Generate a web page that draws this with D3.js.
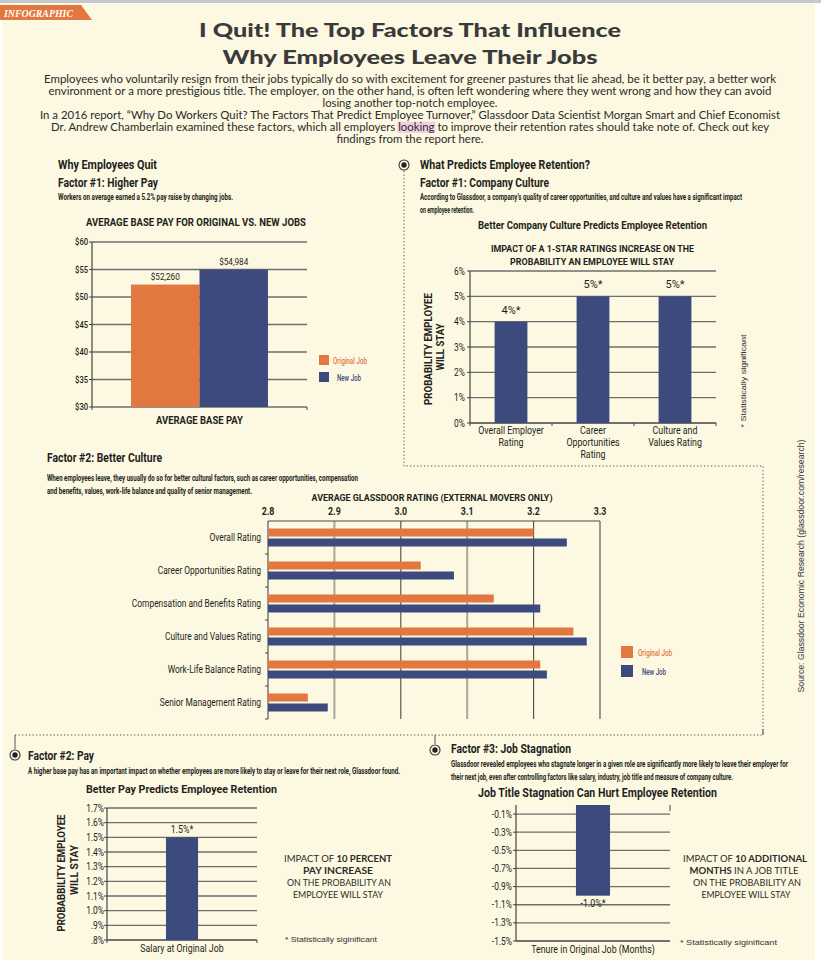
<!DOCTYPE html>
<html><head><meta charset="utf-8">
<script src="https://cdn.jsdelivr.net/npm/d3@7"></script>
<style>html,body{margin:0;padding:0;background:#fff}svg{display:block}</style>
</head><body><svg id="c" width="821" height="968"></svg>
<script>
// ---------- DATA ----------
const payGroup = ["AVERAGE BASE PAY"];
const paySeries = ["Original Job", "New Job"];
const payValues = [52260, 54984];
const payTicks = [30, 35, 40, 45, 50, 55, 60]; // thousands of dollars

const cultureCats = ["Overall Employer Rating", "Career Opportunities Rating", "Culture and Values Rating"];
const cultureCatLines = [["Overall Employer", "Rating"], ["Career", "Opportunities", "Rating"], ["Culture and", "Values Rating"]];
const cultureValues = [4, 5, 5];
const cultureLabels = ["4%*", "5%*", "5%*"];
const cultureTicks = [0, 1, 2, 3, 4, 5, 6];

const ratingCats = ["Overall Rating", "Career Opportunities Rating", "Compensation and Benefits Rating", "Culture and Values Rating", "Work-Life Balance Rating", "Senior Management Rating"];
const ratingOriginal = [3.20, 3.03, 3.14, 3.26, 3.21, 2.86];
const ratingNew = [3.25, 3.08, 3.21, 3.28, 3.22, 2.89];
const ratingTicks = [2.8, 2.9, 3.0, 3.1, 3.2, 3.3];

const payImpactCats = ["Salary at Original Job"];
const payImpactValues = [1.5];
const payImpactLabels = ["1.5%*"];
const payImpactTicks = [0.8, 0.9, 1.0, 1.1, 1.2, 1.3, 1.4, 1.5, 1.6, 1.7];

const stagCats = ["Tenure in Original Job (Months)"];
const stagValues = [-1.0];
const stagLabels = ["-1.0%*"];
const stagTicks = [-0.1, -0.3, -0.5, -0.7, -0.9, -1.1, -1.3, -1.5];

const introLines = [
  "Employees who voluntarily resign from their jobs typically do so with excitement for greener pastures that lie ahead, be it better pay, a better work",
  "environment or a more prestigious title. The employer, on the other hand, is often left wondering where they went wrong and how they can avoid",
  "losing another top-notch employee.",
  "In a 2016 report, \u201cWhy Do Workers Quit? The Factors That Predict Employee Turnover,\u201d Glassdoor Data Scientist Morgan Smart and Chief Economist",
  "Dr. Andrew Chamberlain examined these factors, which all employers looking to improve their retention rates should take note of. Check out key",
  "findings from the report here."
];
const introWidths = [732, 723, 175, 740, 718, 147];

// ---------- SETUP ----------
const svg = d3.select("#c");
const INK = "#231f20", ORANGE = "#e2773f", NAVY = "#3c4a7e", CREAM = "#fcf8e1", GRID = "#6e6e6e";
const COND = "Roboto, 'Liberation Sans', sans-serif";
const GOTH = "Lato, 'Open Sans', sans-serif";

function T(o) {
  const t = (o.g || svg).append("text").attr("x", o.x).attr("y", o.y)
    .attr("text-anchor", o.a || "start").attr("fill", o.c || INK)
    .style("font-family", o.f || COND).style("font-size", o.s + "px")
    .style("font-weight", o.wt || (o.b ? 700 : 400));
  if (o.i) t.style("font-style", "italic");
  if (o.parts) o.parts.forEach(p => t.append("tspan").text(p[0]).style("font-weight", p[1] ? 700 : 400));
  else t.text(o.t);
  if (o.r) t.attr("transform", `rotate(-90,${o.x},${o.y})`);
  if (o.w) t.attr("textLength", o.w).attr("lengthAdjust", "spacingAndGlyphs");
  else if (!o.f || o.f === COND) {
    const k = o.k || 0.84;
    const L = t.node().getComputedTextLength();
    if (L > 0) t.attr("textLength", L * k).attr("lengthAdjust", "spacingAndGlyphs");
  }
  return t;
}
function line(g, x1, y1, x2, y2, c, w) {
  return g.append("line").attr("x1", x1).attr("y1", y1).attr("x2", x2).attr("y2", y2)
    .attr("stroke", c || GRID).attr("stroke-width", w || 1);
}

// ---------- BACKGROUND ----------
svg.append("rect").attr("width", 821).attr("height", 968).attr("fill", "#fff");
svg.append("rect").attr("width", 821).attr("height", 3).attr("fill", "#c8c8c8");
svg.append("rect").attr("x", 2).attr("y", 4).attr("width", 813).attr("height", 956).attr("fill", CREAM);

// tag
svg.append("path").attr("d", "M0,5H81L92,20H0Z").attr("fill", "#e2773f");
T({x: 4, y: 17, t: "INFOGRAPHIC", s: 11, b: 1, i: 1, c: "#fff", f: "'Liberation Serif', serif", w: 69});

// title
T({x: 410, y: 37, a: "middle", s: 19, wt: 900, f: GOTH, w: 422, c: "#3a3a3a", t: "I Quit! The Top Factors That Influence"});
T({x: 410, y: 64, a: "middle", s: 19, wt: 900, f: GOTH, w: 375, c: "#3a3a3a", t: "Why Employees Leave Their Jobs"});

// intro
const hl = svg.append("g");
const intro = svg.append("g");
const introTexts = introLines.map((l, i) => T({g: intro, x: 410, y: 83 + i * 12, a: "middle", s: 10.5, f: GOTH, w: introWidths[i], c: "#2b2b2b", t: l}));
try {
  const n = introTexts[4].node(), s = introLines[4].indexOf("looking");
  const a = n.getExtentOfChar(s), b = n.getExtentOfChar(s + 6);
  hl.append("rect").attr("x", a.x - 1).attr("y", a.y + 0.5).attr("width", b.x + b.width - a.x + 2).attr("height", a.height - 0.5).attr("fill", "#f3cfe2");
} catch (e) {}

// connectors
svg.append("path").attr("d", "M404,171V466H763V735M15,735H763").attr("fill", "none")
  .attr("stroke", "#555").attr("stroke-width", 1).attr("stroke-dasharray", "1.3,2.2");
svg.append("path").attr("d", "M15,735V749M435,735V744M763,729V735").attr("fill", "none").attr("stroke", "#555").attr("stroke-width", 1);
function bullet(x, y) {
  svg.append("circle").attr("cx", x).attr("cy", y).attr("r", 5).attr("fill", CREAM).attr("stroke", "#333").attr("stroke-width", 1.1);
  svg.append("circle").attr("cx", x).attr("cy", y).attr("r", 2.7).attr("fill", "#222");
}
bullet(404, 165); bullet(15, 755); bullet(435, 750);

// ---------- CHART 1: AVERAGE BASE PAY ----------
{
  const g = svg.append("g");
  T({g, x: 58, y: 169, s: 12, b: 1, w: 99, t: "Why Employees Quit"});
  T({g, x: 58, y: 187, s: 12, b: 1, w: 100, t: "Factor #1: Higher Pay"});
  T({g, x: 58, y: 200, s: 8.5, wt: 700, w: 175, t: "Workers on average earned a 5.2% pay raise by changing jobs."});
  T({g, x: 86, y: 226, s: 10, b: 1, w: 220, t: "AVERAGE BASE PAY FOR ORIGINAL VS. NEW JOBS"});

  const x0 = d3.scaleBand().domain(payGroup).range([92, 307]).paddingInner(0).paddingOuter(0.285);
  const x1 = d3.scaleBand().domain(paySeries).range([0, x0.bandwidth()]);
  const y = d3.scaleLinear().domain([30, 60]).range([407, 242]);
  payTicks.forEach(t => {
    line(g, 92, y(t), 307, y(t), GRID, 1.3);
    line(g, 89, y(t), 92, y(t), "#444", 1);
    T({g, x: 88, y: y(t) + 3, a: "end", s: 9, wt: 500, t: "$" + t});
  });
  line(g, 92, 242, 92, 407, "#444", 1.2);
  line(g, 92, 407, 92, 410, "#444", 1); line(g, 307, 407, 307, 410, "#444", 1);
  const cols = [ORANGE, NAVY];
  paySeries.forEach((s, i) => {
    const bx = x0(payGroup[0]) + x1(s);
    const v = payValues[i] / 1000;
    g.append("rect").attr("x", bx).attr("y", y(v)).attr("width", x1.bandwidth())
      .attr("height", y(30) - y(v)).attr("fill", cols[i]);
    T({g, x: bx + x1.bandwidth() / 2, y: y(v) - 5, a: "middle", s: 9.5, w: 29, t: "$" + d3.format(",")(payValues[i])});
  });
  T({g, x: x0(payGroup[0]) + x0.bandwidth() / 2, y: 424, a: "middle", s: 10.5, b: 1, w: 87, t: payGroup[0]});
  // legend
  paySeries.forEach((s, i) => {
    g.append("rect").attr("x", 319).attr("y", 355 + i * 17).attr("width", 10).attr("height", 10).attr("fill", cols[i]);
    T({g, x: i ? 337 : 333, y: 364 + i * 17, s: 9.5, wt: 500, c: cols[i], w: i ? 24 : 34, t: s});
  });
}

// ---------- CHART 2: COMPANY CULTURE ----------
{
  const g = svg.append("g");
  T({g, x: 420, y: 169, s: 12, b: 1, w: 170, t: "What Predicts Employee Retention?"});
  T({g, x: 420, y: 187, s: 12, b: 1, w: 129, t: "Factor #1: Company Culture"});
  T({g, x: 420, y: 200, s: 8.5, wt: 700, w: 322, t: "According to Glassdoor, a company\u2019s quality of career opportunities, and culture and values have a significant impact"});
  T({g, x: 420, y: 212.5, s: 8.5, wt: 700, w: 54, t: "on employee retention."});
  T({g, x: 478, y: 229, s: 10.5, b: 1, w: 229, t: "Better Company Culture Predicts Employee Retention"});
  T({g, x: 592.5, y: 252, a: "middle", s: 9.5, b: 1, w: 203, t: "IMPACT OF A 1-STAR RATINGS INCREASE ON THE"});
  T({g, x: 592, y: 264.5, a: "middle", s: 9.5, b: 1, w: 164, t: "PROBABILITY AN EMPLOYEE WILL STAY"});

  const x = d3.scaleBand().domain(cultureCats).range([470, 716]).paddingInner(0.6).paddingOuter(0.3);
  const y = d3.scaleLinear().domain([0, 6]).range([423, 271]);
  cultureTicks.forEach(t => {
    line(g, 470, y(t), 716, y(t), t === 0 ? "#444" : GRID, 1.3);
    line(g, 467, y(t), 470, y(t), "#444", 1);
    T({g, x: 465, y: y(t) + 3.5, a: "end", s: 10, t: t + "%"});
  });
  line(g, 470, 271, 470, 423, "#444", 1.2);
  [470, 552, 634, 716].forEach(v => line(g, v, 423, v, 426, "#444", 1));
  cultureCats.forEach((c, i) => {
    g.append("rect").attr("x", x(c)).attr("y", y(cultureValues[i])).attr("width", x.bandwidth())
      .attr("height", y(0) - y(cultureValues[i])).attr("fill", NAVY);
    T({g, x: x(c) + x.bandwidth() / 2, y: y(cultureValues[i]) - 8, a: "middle", s: 11.5, w: 19, t: cultureLabels[i]});
    cultureCatLines[i].forEach((l, j) => T({g, x: x(c) + x.bandwidth() / 2, y: 433.5 + j * 12, a: "middle", s: 10.5, t: l}));
  });
  T({g, x: 432, y: 349, a: "middle", r: 1, s: 10, b: 1, w: 112, t: "PROBABILITY EMPLOYEE"});
  T({g, x: 444, y: 347, a: "middle", r: 1, s: 10, b: 1, w: 47, t: "WILL STAY"});
  T({g, x: 746, y: 381, a: "middle", r: 1, s: 7.5, f: "'Liberation Sans', Arial, sans-serif", w: 93, c: "#333", t: "* Statistically significant"});
}

// ---------- CHART 3: GLASSDOOR RATINGS ----------
{
  const g = svg.append("g");
  T({g, x: 47, y: 462, s: 12, b: 1, w: 115, t: "Factor #2: Better Culture"});
  T({g, x: 47, y: 481, s: 8.5, wt: 700, w: 311, t: "When employees leave, they usually do so for better cultural factors, such as career opportunities, compensation"});
  T({g, x: 47, y: 493.5, s: 8.5, wt: 700, w: 205, t: "and benefits, values, work-life balance and quality of senior management."});
  T({g, x: 432, y: 501, a: "middle", s: 9.5, b: 1, w: 241, t: "AVERAGE GLASSDOOR RATING (EXTERNAL MOVERS ONLY)"});

  const x = d3.scaleLinear().domain([2.8, 3.3]).range([268, 600]);
  const y0 = d3.scaleBand().domain(ratingCats).range([521, 719]);
  const y1 = d3.scaleBand().domain(paySeries).range([0, y0.bandwidth()]).paddingInner(0.2).paddingOuter(0.75);
  ratingTicks.forEach((t, i) => {
    const light = (i === 1 || i === 3);
    line(g, x(t), 521, x(t), 719, light ? "#a9a799" : "#4a4a4a", light ? 2 : 1.1);
    T({g, x: x(t), y: 515, a: "middle", s: 10.5, b: 1, t: d3.format(".1f")(t)});
  });
  line(g, 268, 521, 600, 521, "#4a4a4a", 1.1);
  ratingCats.forEach((c, i) => {
    line(g, 265, y0(c) + y0.bandwidth(), 268, y0(c) + y0.bandwidth(), "#444", 1);
    const vals = [ratingOriginal[i], ratingNew[i]], cols = [ORANGE, NAVY];
    paySeries.forEach((s, j) => {
      g.append("rect").attr("x", x(2.8)).attr("y", y0(c) + y1(s)).attr("width", x(vals[j]) - x(2.8))
        .attr("height", y1.bandwidth()).attr("fill", cols[j]);
    });
    T({g, x: 261, y: y0(c) + y0.bandwidth() / 2 + 3.5, a: "end", s: 10, t: c});
  });
  const cols = [ORANGE, NAVY];
  paySeries.forEach((s, i) => {
    g.append("rect").attr("x", 621).attr("y", 646 + i * 19).attr("width", 12).attr("height", 12).attr("fill", cols[i]);
    T({g, x: i ? 642 : 638, y: 656 + i * 19, s: 9.5, wt: 500, c: cols[i], w: i ? 24 : 34, t: s});
  });
}

// source
T({x: 804, y: 566, a: "middle", r: 1, s: 9, f: "'Liberation Sans', Arial, sans-serif", w: 253, c: "#333", t: "Source: Glassdoor Economic Research (glassdoor.com/research)"});

// ---------- CHART 4: PAY IMPACT ----------
{
  const g = svg.append("g");
  T({g, x: 28, y: 760, s: 12, b: 1, w: 66, t: "Factor #2: Pay"});
  T({g, x: 28, y: 773.5, s: 8.5, wt: 700, w: 372, t: "A higher base pay has an important impact on whether employees are more likely to stay or leave for their next role, Glassdoor found."});
  T({g, x: 86, y: 793, s: 11, b: 1, w: 191, t: "Better Pay Predicts Employee Retention"});

  const x = d3.scaleBand().domain(payImpactCats).range([107, 257]).paddingInner(0).paddingOuter(1.84);
  const y = d3.scaleLinear().domain([0.8, 1.7]).range([940, 808]);
  const fmt = v => (v >= 1 ? v.toFixed(1) : v.toFixed(1).slice(1)) + "%";
  payImpactTicks.forEach(t => {
    line(g, 107, y(t), 257, y(t), t === 0.8 ? "#444" : GRID, 1.3);
    line(g, 104, y(t), 107, y(t), "#444", 1);
    T({g, x: 104, y: y(t) + 3.5, a: "end", s: 10, t: fmt(t)});
  });
  line(g, 107, 808, 107, 940, "#444", 1.2);
  line(g, 107, 940, 107, 943, "#444", 1); line(g, 257, 940, 257, 943, "#444", 1);
  payImpactCats.forEach((c, i) => {
    g.append("rect").attr("x", x(c)).attr("y", y(payImpactValues[i])).attr("width", x.bandwidth())
      .attr("height", y(0.8) - y(payImpactValues[i])).attr("fill", NAVY);
    T({g, x: x(c) + x.bandwidth() / 2, y: y(payImpactValues[i]) - 4, a: "middle", s: 10.5, t: payImpactLabels[i]});
    T({g, x: x(c) + x.bandwidth() / 2, y: 952, a: "middle", s: 10.5, t: c});
  });
  T({g, x: 65, y: 873, a: "middle", r: 1, s: 10, b: 1, w: 117, t: "PROBABBILITY EMPLOYEE"});
  T({g, x: 78, y: 870, a: "middle", r: 1, s: 10, b: 1, w: 50, t: "WILL STAY"});

  T({g, x: 338, y: 862, a: "middle", s: 10, f: GOTH, w: 108, c: "#2b2b2b", parts: [["IMPACT OF ", 0], ["10 PERCENT", 1]]});
  T({g, x: 338, y: 874, a: "middle", s: 10, f: GOTH, b: 1, w: 70, c: "#2b2b2b", t: "PAY INCREASE"});
  T({g, x: 339, y: 886, a: "middle", s: 10, f: GOTH, w: 104, c: "#2b2b2b", t: "ON THE PROBABILITY AN"});
  T({g, x: 338, y: 898, a: "middle", s: 10, f: GOTH, w: 90, c: "#2b2b2b", t: "EMPLOYEE WILL STAY"});
  T({g, x: 285, y: 942, s: 7.5, f: "'Liberation Sans', Arial, sans-serif", w: 92, c: "#333", t: "* Statistically siginificant"});
}

// ---------- CHART 5: JOB STAGNATION ----------
{
  const g = svg.append("g");
  T({g, x: 451, y: 753, s: 12, b: 1, w: 120, t: "Factor #3: Job Stagnation"});
  T({g, x: 451, y: 767, s: 8.5, wt: 700, w: 337, t: "Glassdoor revealed employees who stagnate longer in a given role are significantly more likely to leave their employer for"});
  T({g, x: 451, y: 779.5, s: 8.5, wt: 700, w: 282, t: "their next job, even after controlling factors like salary, industry, job title and measure of company culture."});
  T({g, x: 478, y: 797, s: 12, b: 1, w: 239, t: "Job Title Stagnation Can Hurt Employee Retention"});

  const x = d3.scaleBand().domain(stagCats).range([516, 670]).paddingInner(0).paddingOuter(1.76);
  const y = d3.scaleLinear().domain([0, -1.5]).range([805, 941]);
  stagTicks.forEach(t => {
    line(g, 516, y(t), 670, y(t), t === -1.5 ? "#444" : GRID, 1.3);
    line(g, 513, y(t), 516, y(t), "#444", 1);
    T({g, x: 512, y: y(t) + 3.5, a: "end", s: 10, t: t.toFixed(1) + "%"});
  });
  line(g, 516, 805, 516, 941, "#444", 1.2);
  line(g, 670, 805, 670, 811, "#444", 1);
  stagCats.forEach((c, i) => {
    g.append("rect").attr("x", x(c)).attr("y", y(0)).attr("width", x.bandwidth())
      .attr("height", y(stagValues[i]) - y(0)).attr("fill", NAVY);
    T({g, x: x(c) + x.bandwidth() / 2, y: y(stagValues[i]) + 11, a: "middle", s: 10.5, t: stagLabels[i]});
    T({g, x: x(c) + x.bandwidth() / 2, y: 953, a: "middle", s: 10.5, t: c});
  });
  T({g, x: 745, y: 862, a: "middle", s: 10, f: GOTH, w: 124, c: "#2b2b2b", parts: [["IMPACT OF ", 0], ["10 ADDITIONAL", 1]]});
  T({g, x: 744, y: 874, a: "middle", s: 10, f: GOTH, w: 109, c: "#2b2b2b", parts: [["MONTHS", 1], [" IN A JOB TITLE", 0]]});
  T({g, x: 747, y: 886, a: "middle", s: 10, f: GOTH, w: 108, c: "#2b2b2b", t: "ON THE PROBABILITY AN"});
  T({g, x: 746, y: 898, a: "middle", s: 10, f: GOTH, w: 89, c: "#2b2b2b", t: "EMPLOYEE WILL STAY"});
  T({g, x: 680, y: 945, s: 7.5, f: "'Liberation Sans', Arial, sans-serif", w: 97, c: "#333", t: "* Statistically siginificant"});
}
</script></body></html>
